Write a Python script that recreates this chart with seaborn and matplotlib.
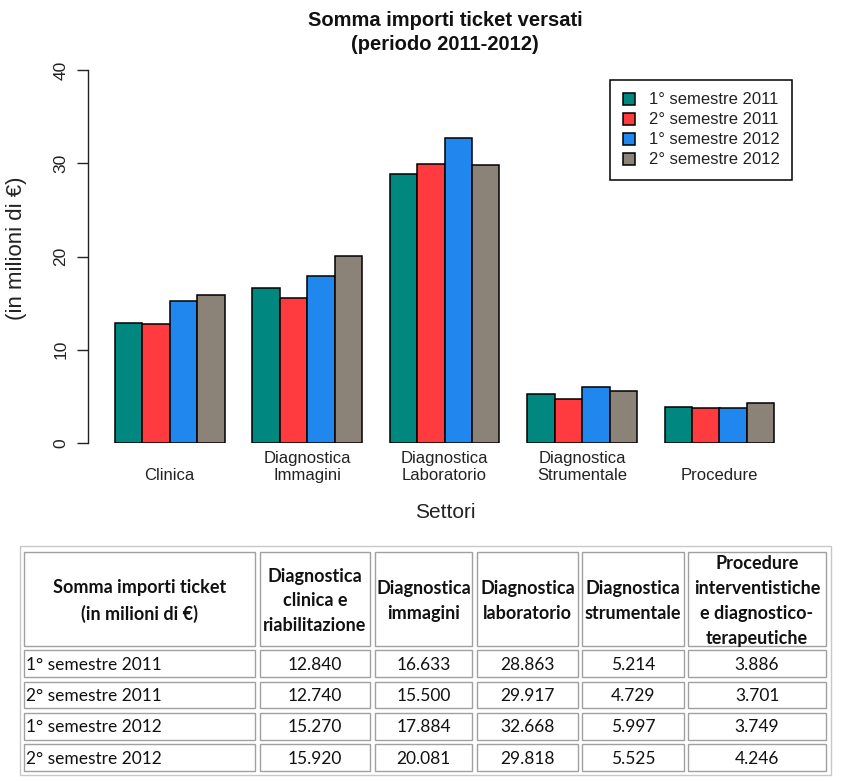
import matplotlib
matplotlib.use("Agg")
import matplotlib.pyplot as plt
import matplotlib.patches as mpatches
import seaborn as sns
import pandas as pd

# ---------------- data ----------------
sectors = ["Clinica", "Diagnostica\nImmagini", "Diagnostica\nLaboratorio",
           "Diagnostica\nStrumentale", "Procedure"]
periods = ["1° semestre 2011", "2° semestre 2011", "1° semestre 2012", "2° semestre 2012"]
s1_2011 = [12.840, 16.633, 28.863, 5.214, 3.886]
s2_2011 = [12.740, 15.500, 29.917, 4.729, 3.701]
s1_2012 = [15.270, 17.884, 32.668, 5.997, 3.749]
s2_2012 = [15.920, 20.081, 29.818, 5.525, 4.246]
series = [s1_2011, s2_2011, s1_2012, s2_2012]
colors = ["#00877F", "#FF3B3F", "#1F87EE", "#8B8378"]
y_ticks = [0, 10, 20, 30, 40]

table_corner = "Somma importi ticket\n(in milioni di €)"
table_headers = ["Diagnostica\nclinica e\nriabilitazione", "Diagnostica\nimmagini",
                 "Diagnostica\nlaboratorio", "Diagnostica\nstrumentale",
                 "Procedure\ninterventistiche\ne diagnostico-\nterapeutiche"]

df = pd.DataFrame({
    "settore": [s for _ in periods for s in sectors],
    "periodo": [p for p in periods for _ in sectors],
    "valore": [v for ser in series for v in ser],
})

# ---------------- figure ----------------
W, H = 844, 781
sns.set_theme(style="white")
plt.rcParams["font.family"] = ["Liberation Sans", "DejaVu Sans"]
fig = plt.figure(figsize=(W / 100, H / 100), dpi=100)
fig.patch.set_facecolor("white")

def fx(px):
    return px / W

def fy(py):
    return 1 - py / H

ax = fig.add_axes([fx(88), fy(443), fx(800) - fx(88), (443 - 70) / H])
sns.barplot(data=df, x="settore", y="valore", hue="periodo", order=sectors,
            hue_order=periods, palette=colors, saturation=1, edgecolor="black",
            linewidth=1.1, width=0.8, ax=ax)

ax.set_xlim((88 - 169.5) / 137.5, (800 - 169.5) / 137.5)
ax.set_ylim(0, 40)
ax.set_yticks(y_ticks)
ax.set_xlabel("")
ax.set_ylabel("")
for sp in ["top", "right", "bottom"]:
    ax.spines[sp].set_visible(False)
ax.spines["left"].set_color("#222222")
ax.spines["left"].set_linewidth(1.0)
ax.spines["left"].set_bounds(0, 40)
ax.tick_params(axis="y", length=8, width=1.0, color="#222222", direction="out",
               labelsize=12.5, labelrotation=90, pad=6, labelcolor="#222222", left=True)
ax.tick_params(axis="x", length=0, labelsize=12, pad=28.5, labelcolor="#222222")
for lab in ax.get_yticklabels():
    lab.set_va("center")
for lab in ax.get_xticklabels():
    lab.set_va("bottom")
    lab.set_linespacing(1.15)
ax.set_facecolor("white")

handles, labels = ax.get_legend_handles_labels()
leg = ax.legend(handles, labels, loc="upper right",
                bbox_to_anchor=(fx(792), fy(80)), bbox_transform=fig.transFigure,
                borderaxespad=0, frameon=True, fancybox=False, framealpha=1,
                edgecolor="black", fontsize=12, handlelength=0.75, handleheight=0.75,
                handletextpad=0.8, labelspacing=0.3, borderpad=0.75)
leg.get_frame().set_linewidth(1.1)
for t in leg.get_texts():
    t.set_color("#222222")

fig.text(fx(445), fy(20), "Somma importi ticket versati", ha="center", va="center",
         fontsize=14.5, fontweight="bold", color="#111111")
fig.text(fx(445), fy(45), "(periodo 2011-2012)", ha="center", va="center",
         fontsize=14.5, fontweight="bold", color="#111111")
fig.text(fx(445), fy(513), "Settori", ha="center", va="center", fontsize=15,
         color="#222222")
fig.text(fx(17), fy(248), "(in milioni di €)", ha="center", va="center",
         rotation=90, fontsize=16, color="#222222")

# ---------------- table ----------------
tax = fig.add_axes([0, 0, 1, 1])
tax.set_xlim(0, W)
tax.set_ylim(H, 0)
tax.axis("off")
tax.patch.set_alpha(0)

col_edges = [(24, 255), (260, 370), (375, 472), (477, 578), (582, 684), (688, 826)]
row_edges = [(552, 646), (650, 677), (682, 708), (713, 740), (744, 771)]
tfont = ["Lato", "DejaVu Sans"]

tax.add_patch(mpatches.Rectangle((20, 546), 811, 229, facecolor="white",
                                 edgecolor="#C8C8C8", lw=1.0))
for (x0, x1) in col_edges:
    for (y0, y1) in row_edges:
        tax.add_patch(mpatches.Rectangle((x0, y0), x1 - x0, y1 - y0,
                                         facecolor="white", edgecolor="#A0A0A0", lw=1.0))

hy = (row_edges[0][0] + row_edges[0][1]) / 2 + 2
tax.text((col_edges[0][0] + col_edges[0][1]) / 2, hy, table_corner, ha="center",
         va="center", fontsize=13, fontweight="bold", family=tfont,
         linespacing=1.55, color="#111111")
for (x0, x1), h in zip(col_edges[1:], table_headers):
    tax.text((x0 + x1) / 2, hy, h, ha="center", va="center", fontsize=13,
             fontweight="bold", family=tfont, linespacing=1.55, color="#111111")

for (y0, y1), p, ser in zip(row_edges[1:], periods, series):
    yc = (y0 + y1) / 2 + 1
    tax.text(col_edges[0][0] + 2, yc, p, ha="left", va="center", fontsize=12.5,
             family=tfont, color="#111111")
    for (x0, x1), v in zip(col_edges[1:], ser):
        tax.text((x0 + x1) / 2, yc, f"{v:.3f}", ha="center", va="center",
                 fontsize=12.5, family=tfont, color="#111111")

fig.savefig("out.png", dpi=100, facecolor="white")
